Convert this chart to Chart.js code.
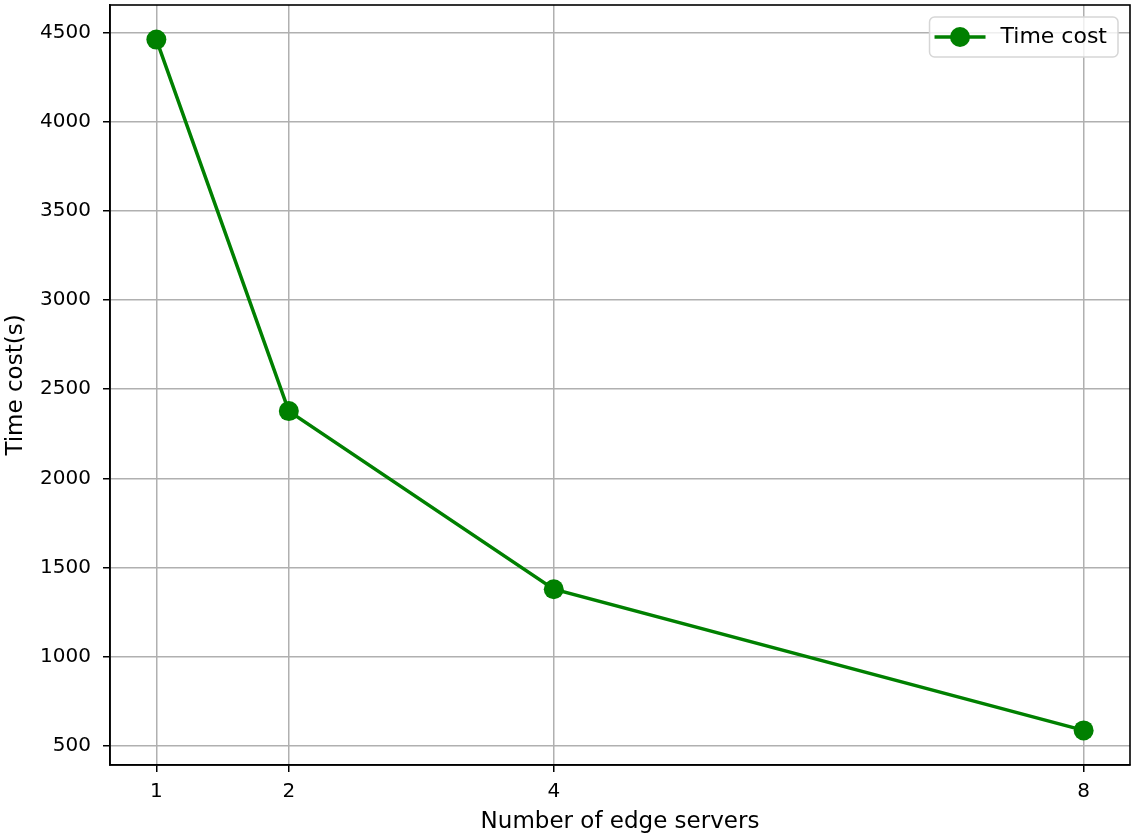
<!DOCTYPE html>
<html>
<head>
<meta charset="utf-8">
<script src="https://cdn.jsdelivr.net/npm/chart.js@4"></script>
<style>
  html, body { margin: 0; padding: 0; background: #fff; }
  #wrap { width: 1136px; height: 838px; }
</style>
</head>
<body>
<div id="wrap"><canvas id="chart-1" width="1136" height="838"></canvas></div>
<script>
const serverCounts = [1, 2, 4, 8];
const timeCost = [4461, 2377, 1378, 586];
const xTickValues = [1, 2, 4, 8];
const yTickValues = [500, 1000, 1500, 2000, 2500, 3000, 3500, 4000, 4500];
const seriesLabel = "Time cost";

const lineColor = "#008000";
const gridColor = "#b0b0b0";

Chart.defaults.font.family = "'DejaVu Sans', sans-serif";
Chart.defaults.color = "#000";

// box round the plot area (matplotlib style frame)
const frameBox = {
  id: "frameBox",
  afterDraw: function (chart) {
    const { ctx, chartArea: { left, top, right, bottom } } = chart;
    ctx.save();
    ctx.strokeStyle = "#000";
    ctx.lineWidth = 1.6;
    ctx.strokeRect(left, top, right - left, bottom - top);
    ctx.restore();
  },
};

// legend drawn inside the plot, upper right
const innerLegend = {
  id: "innerLegend",
  afterDraw: function (chart) {
    const { ctx, chartArea: { top, right } } = chart;
    const ds = chart.data.datasets[0];
    ctx.save();
    ctx.font = "22px 'DejaVu Sans', sans-serif";
    const textW = ctx.measureText(ds.label).width;
    const boxW = 5 + 51 + 15 + textW + 11;
    const boxH = 40;
    const bx = right - 12 - boxW;
    const by = top + 12;
    ctx.beginPath();
    ctx.roundRect(bx, by, boxW, boxH, 5);
    ctx.fillStyle = "rgba(255,255,255,0.8)";
    ctx.fill();
    ctx.strokeStyle = "#d6d6d6";
    ctx.lineWidth = 1.5;
    ctx.stroke();
    const cy = by + boxH / 2;
    ctx.strokeStyle = ds.borderColor;
    ctx.lineWidth = 3.5;
    ctx.beginPath();
    ctx.moveTo(bx + 5, cy);
    ctx.lineTo(bx + 56, cy);
    ctx.stroke();
    ctx.beginPath();
    ctx.arc(bx + 30.5, cy, 10, 0, Math.PI * 2);
    ctx.fillStyle = ds.backgroundColor;
    ctx.fill();
    ctx.fillStyle = "#000";
    ctx.textBaseline = "middle";
    ctx.textAlign = "left";
    ctx.fillText(ds.label, bx + 71, cy);
    ctx.restore();
  },
};

const ctx1 = document.getElementById("chart-1").getContext("2d");
const chart1 = new Chart(ctx1, {
  type: "line",
  data: {
    datasets: [
      {
        label: seriesLabel,
        data: serverCounts.map((x, i) => ({ x: x, y: timeCost[i] })),
        borderColor: lineColor,
        backgroundColor: lineColor,
        borderWidth: 3.5,
        pointRadius: 10,
        pointHoverRadius: 10,
        pointBorderWidth: 0,
        tension: 0,
        fill: false,
        clip: false,
      },
    ],
  },
  plugins: [frameBox, innerLegend],
  options: {
    responsive: false,
    animation: false,
    layout: {
      autoPadding: false,
      padding: { top: 5, right: 6, left: 0, bottom: 0 },
    },
    plugins: {
      legend: { display: false },
      tooltip: { enabled: false },
    },
    scales: {
      x: {
        type: "linear",
        min: 0.65,
        max: 8.35,
        afterBuildTicks: function (scale) {
          scale.ticks = xTickValues.map((v) => ({ value: v }));
        },
        afterFit: function (scale) {
          scale.height = 73;
          scale.paddingLeft = 0;
          scale.paddingRight = 0;
        },
        grid: {
          color: gridColor,
          lineWidth: 1.5,
          tickColor: "#000",
          tickLength: 7,
          tickWidth: 1.5,
        },
        border: { color: "#000", width: 1.6 },
        ticks: {
          font: { size: 20 },
          padding: 8,
          maxRotation: 0,
          autoSkip: false,
          callback: function (value) {
            return String(value);
          },
        },
        title: {
          display: true,
          text: "Number of edge servers",
          font: { size: 23, lineHeight: 1.2 },
          padding: { top: 0, bottom: 2 },
        },
      },
      y: {
        type: "linear",
        min: 392,
        max: 4655,
        afterBuildTicks: function (scale) {
          scale.ticks = yTickValues.map((v) => ({ value: v }));
        },
        afterFit: function (scale) {
          scale.width = 110;
          scale.paddingTop = 0;
          scale.paddingBottom = 0;
        },
        grid: {
          color: gridColor,
          lineWidth: 1.5,
          tickColor: "#000",
          tickLength: 7,
          tickWidth: 1.5,
        },
        border: { color: "#000", width: 1.6 },
        ticks: {
          font: { size: 20 },
          padding: 12,
          autoSkip: false,
          callback: function (value) {
            return String(value);
          },
        },
        title: {
          display: true,
          text: "Time cost(s)",
          font: { size: 23, lineHeight: 1.2 },
          padding: { top: 2, bottom: 0 },
        },
      },
    },
  },
});
</script>
</body>
</html>
